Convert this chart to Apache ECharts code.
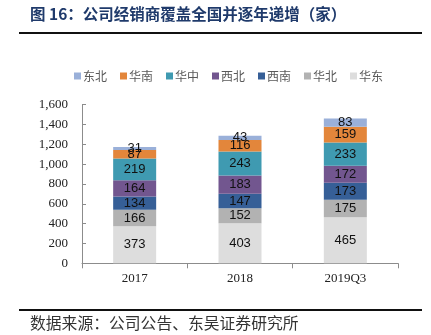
<!DOCTYPE html>
<html>
<head>
<meta charset="utf-8">
<script src="https://cdn.jsdelivr.net/npm/echarts@6/dist/echarts.min.js"></script>
<style>
  html, body { margin: 0; padding: 0; background: #fff; }
  #chart { width: 431px; height: 335px; }
</style>
</head>
<body>
<div id="chart"></div>
<script>
// Dealer counts by region, stacked per period
const categories = ['2017', '2018', '2019Q3'];
const huadong = [373, 403, 465];   // 华东
const huabei = [166, 152, 175];    // 华北
const xinan = [134, 147, 173];     // 西南
const xibei = [164, 183, 172];     // 西北
const huazhong = [219, 243, 233];  // 华中
const huanan = [87, 116, 159];     // 华南
const dongbei = [31, 43, 83];      // 东北
const yTicks = [0, 200, 400, 600, 800, 1000, 1200, 1400, 1600];

const legendOrder = ['东北', '华南', '华中', '西北', '西南', '华北', '华东'];

const seriesDefs = [
  { name: '华东', data: huadong, color: '#DDDDDD' },
  { name: '华北', data: huabei, color: '#B2B2B2' },
  { name: '西南', data: xinan, color: '#365F97' },
  { name: '西北', data: xibei, color: '#72568F' },
  { name: '华中', data: huazhong, color: '#3F9AB1' },
  { name: '华南', data: huanan, color: '#E3863B' },
  { name: '东北', data: dongbei, color: '#9AB0D9' }
];

const chart = echarts.init(document.getElementById('chart'), null, { renderer: 'canvas' });

chart.setOption({
  animation: false,
  backgroundColor: '#ffffff',
  legend: {
    data: legendOrder,
    top: 65,
    left: 69,
    itemWidth: 7,
    itemHeight: 7,
    itemGap: 13,
    icon: 'rect',
    textStyle: { fontFamily: 'Noto Sans CJK SC', fontSize: 12, color: '#595959', padding: [0, 0, 0, -3] }
  },
  grid: { left: 82, right: 33, top: 104.7, bottom: 71.7 },
  xAxis: {
    type: 'category',
    data: categories,
    axisLine: { lineStyle: { color: '#8C8C8C', width: 1 } },
    axisTick: { show: true, alignWithLabel: false, length: 5, lineStyle: { color: '#8C8C8C' } },
    axisLabel: { fontFamily: 'Liberation Serif', fontSize: 13, color: '#222', margin: 9 }
  },
  yAxis: {
    type: 'value',
    min: yTicks[0],
    max: yTicks[yTicks.length - 1],
    interval: yTicks[1] - yTicks[0],
    axisLine: { show: true, lineStyle: { color: '#8C8C8C', width: 1 } },
    axisTick: { show: true, inside: true, length: 4, lineStyle: { color: '#8C8C8C' } },
    splitLine: { show: false },
    axisLabel: {
      fontFamily: 'Liberation Serif', fontSize: 13, color: '#222', margin: 14,
      formatter: v => v.toLocaleString('en-US')
    }
  },
  series: seriesDefs.map(s => ({
    name: s.name,
    type: 'bar',
    stack: 'total',
    barWidth: 43,
    data: s.data,
    itemStyle: { color: s.color },
    label: {
      show: true,
      position: 'inside',
      fontFamily: 'Liberation Sans',
      fontSize: 13,
      color: '#111'
    }
  })),
  graphic: [
    {
      type: 'text', left: 30, top: 6,
      style: {
        text: '图 16：公司经销商覆盖全国并逐年递增（家）',
        font: 'bold 15.5px "Noto Sans CJK SC"',
        fill: '#1F3A6B'
      }
    },
    {
      type: 'line',
      shape: { x1: 19, y1: 33, x2: 422, y2: 33 },
      style: { stroke: '#111', lineWidth: 2 }
    },
    {
      type: 'line',
      shape: { x1: 19, y1: 310, x2: 422, y2: 310 },
      style: { stroke: '#111', lineWidth: 2 }
    },
    {
      type: 'text', left: 30, top: 315,
      style: {
        text: '数据来源：公司公告、东吴证券研究所',
        font: '15.8px "Noto Sans CJK SC"',
        fill: '#333'
      }
    }
  ]
});
</script>
</body>
</html>
